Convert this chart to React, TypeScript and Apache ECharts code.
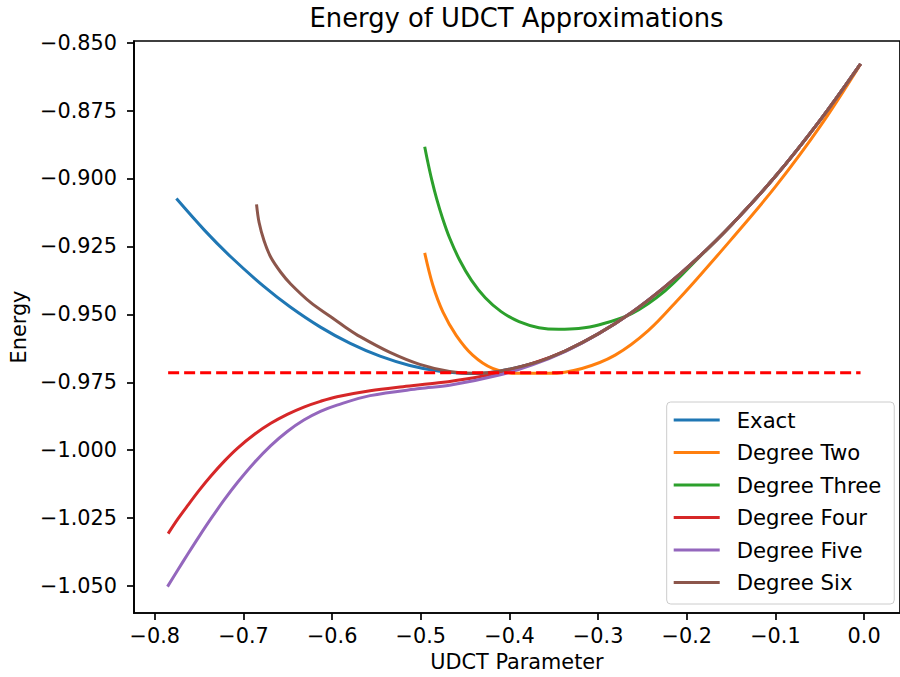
import React, { useEffect, useRef } from "react";
import * as echarts from "echarts";

// Tick values
const xTicks = [-0.8, -0.7, -0.6, -0.5, -0.4, -0.3, -0.2, -0.1, 0.0];
const yTicks = [-1.05, -1.025, -1.0, -0.975, -0.95, -0.925, -0.9, -0.875, -0.85];

const seriesNames = ["Exact", "Degree Two", "Degree Three", "Degree Four", "Degree Five", "Degree Six"];
const seriesColors = ["#1f77b4", "#ff7f0e", "#2ca02c", "#d62728", "#9467bd", "#8c564b"];

// Exact
const exactX = [-0.7757, -0.7441, -0.7141, -0.6767, -0.6476, -0.6132, -0.5796, -0.546, -0.5124, -0.4788, -0.4377, -0.4115, -0.3742, -0.3368, -0.2995, -0.2622, -0.2248, -0.1874, -0.15, -0.1, -0.05, -0.004];
const exactY = [-0.9074, -0.919, -0.9289, -0.9398, -0.9472, -0.9547, -0.9607, -0.9654, -0.9688, -0.9709, -0.9718, -0.9709, -0.9681, -0.9634, -0.9571, -0.9493, -0.9399, -0.9292, -0.9172, -0.8992, -0.8787, -0.8578];

// Degree Two
const twoX = [-0.4956, -0.4863, -0.4751, -0.4601, -0.4415, -0.419, -0.3928, -0.3555, -0.3182, -0.2808, -0.2435, -0.2062, -0.1874, -0.15, -0.1, -0.05, -0.004];
const twoY = [-0.9274, -0.9394, -0.9491, -0.9577, -0.965, -0.9699, -0.9717, -0.9717, -0.9699, -0.965, -0.956, -0.9433, -0.9365, -0.9225, -0.903, -0.881, -0.8579];

// Degree Three
const threeX = [-0.4956, -0.4922, -0.4877, -0.4821, -0.4754, -0.4676, -0.4564, -0.443, -0.4273, -0.4094, -0.3892, -0.3668, -0.3444, -0.322, -0.2995, -0.2622, -0.2248, -0.1874, -0.15, -0.1, -0.05, -0.004];
const threeY = [-0.8883, -0.8938, -0.9004, -0.9075, -0.9147, -0.9218, -0.9299, -0.9374, -0.9439, -0.949, -0.9527, -0.9549, -0.9555, -0.9552, -0.9539, -0.9497, -0.9414, -0.9294, -0.9172, -0.8992, -0.8787, -0.8578];

// Degree Four
const fourX = [-0.785, -0.7738, -0.7626, -0.7496, -0.7365, -0.7216, -0.7066, -0.6879, -0.6692, -0.6506, -0.6319, -0.6132, -0.5945, -0.5572, -0.52, -0.48, -0.44, -0.4115, -0.3742, -0.3368, -0.2995, -0.2622, -0.2248, -0.1874, -0.15, -0.1, -0.05, -0.004];
const fourY = [-1.0307, -1.0252, -1.0202, -1.0146, -1.0094, -1.004, -0.9992, -0.9942, -0.9901, -0.9868, -0.9841, -0.982, -0.9803, -0.9781, -0.9766, -0.9752, -0.9733, -0.9714, -0.9681, -0.9634, -0.9571, -0.9493, -0.9399, -0.9292, -0.9172, -0.8992, -0.8787, -0.8578];

// Degree Five
const fiveX = [-0.7857, -0.7741, -0.7626, -0.7496, -0.7365, -0.7216, -0.7066, -0.6879, -0.6692, -0.6506, -0.6319, -0.6132, -0.5945, -0.5572, -0.5012, -0.4676, -0.4115, -0.3742, -0.3368, -0.2995, -0.2622, -0.2248, -0.1874, -0.15, -0.1, -0.05, -0.004];
const fiveY = [-1.0502, -1.0441, -1.0381, -1.0315, -1.0251, -1.0182, -1.0118, -1.0046, -0.9983, -0.9931, -0.9889, -0.9857, -0.9834, -0.9799, -0.9773, -0.9761, -0.9723, -0.9686, -0.9636, -0.9571, -0.9493, -0.9399, -0.9292, -0.9172, -0.8992, -0.8787, -0.8578];

// Degree Six
const sixX = [-0.6853, -0.6824, -0.6768, -0.6692, -0.658, -0.6468, -0.6244, -0.602, -0.585, -0.5684, -0.5348, -0.5012, -0.4676, -0.4377, -0.4115, -0.3742, -0.3368, -0.2995, -0.2622, -0.2248, -0.1874, -0.15, -0.1, -0.05, -0.004];
const sixY = [-0.9095, -0.9162, -0.9229, -0.929, -0.9345, -0.9388, -0.9456, -0.9508, -0.9547, -0.9582, -0.964, -0.9684, -0.971, -0.9717, -0.9709, -0.9681, -0.9634, -0.9571, -0.9493, -0.9399, -0.9292, -0.9172, -0.8992, -0.8787, -0.8578];

// Reference (dashed) line
const refX = [-0.785, -0.004];
const refY = [-0.9715, -0.9715];

const allX = [exactX, twoX, threeX, fourX, fiveX, sixX];
const allY = [exactY, twoY, threeY, fourY, fiveY, sixY];

const FONT = "DejaVu Sans";
const fmt = (v: number, d: number) => (v < -1e-9 ? "\u2212" : "") + Math.abs(v).toFixed(d);

export default function App() {
  const ref = useRef<HTMLDivElement>(null);
  useEffect(() => {
    document.body.style.margin = "0";
    const chart = echarts.init(ref.current!, null, { renderer: "svg" });
    const lines = seriesNames.map((name, i) => ({
      name,
      type: "line",
      data: allX[i].map((x, j) => [x, allY[i][j]]),
      symbol: "none",
      smooth: 0.35,
      lineStyle: { color: seriesColors[i], width: 3 },
      itemStyle: { color: seriesColors[i] },
      z: 2 + i,
    }));
    chart.setOption({
      animation: false,
      textStyle: { fontFamily: FONT },
      title: {
        text: "Energy of UDCT Approximations",
        left: 511.5,
        top: 0,
        textAlign: "center",
        textStyle: { fontSize: 25.8, fontWeight: "normal", color: "#000", fontFamily: FONT },
      },
      grid: {
        left: 132.3,
        top: 41,
        width: 771.1,
        height: 574.7,
        show: true,
        borderColor: "#000",
        borderWidth: 1.7,
        backgroundColor: "transparent",
      },
      legend: {
        data: seriesNames,
        orient: "vertical",
        left: 666.7,
        top: 402,
        padding: [7, 13, 10.5, 7],
        itemWidth: 46,
        itemHeight: 3,
        icon: "rect",
        itemGap: 10.5,
        selectedMode: false,
        backgroundColor: "rgba(255,255,255,0.8)",
        borderColor: "#cccccc",
        borderWidth: 1,
        borderRadius: 4,
        textStyle: { fontSize: 21.2, lineHeight: 22, color: "#000", fontFamily: FONT, padding: [0, 0, 0, 12] },
      },
      xAxis: {
        type: "value",
        min: -0.8235,
        max: 0.0405,
        name: "UDCT Parameter",
        nameLocation: "middle",
        nameGap: 38,
        nameTextStyle: { fontSize: 20.8, color: "#000", fontFamily: FONT },
        axisLine: { show: true, onZero: false, lineStyle: { color: "#000", width: 1.7 } },
        axisTick: { show: true, length: 7, customValues: xTicks, lineStyle: { color: "#000", width: 1.7 } },
        axisLabel: {
          customValues: xTicks,
          formatter: (v: number) => fmt(v, 1),
          margin: 12,
          fontSize: 20.8,
          color: "#000",
          fontFamily: FONT,
        },
        splitLine: { show: false },
      },
      yAxis: {
        type: "value",
        min: -1.0599,
        max: -0.8494,
        name: "Energy",
        nameLocation: "middle",
        nameGap: 105,
        nameRotate: 90,
        nameTextStyle: { fontSize: 20.8, color: "#000", fontFamily: FONT },
        axisLine: { show: true, onZero: false, lineStyle: { color: "#000", width: 1.7 } },
        axisTick: { show: true, length: 7, customValues: yTicks, lineStyle: { color: "#000", width: 1.7 } },
        axisLabel: {
          customValues: yTicks,
          formatter: (v: number) => fmt(v, 3),
          margin: 17,
          fontSize: 20.8,
          color: "#000",
          fontFamily: FONT,
        },
        splitLine: { show: false },
      },
      series: [
        ...lines,
        {
          name: "Reference",
          type: "line",
          data: refX.map((x, j) => [x, refY[j]]),
          symbol: "none",
          lineStyle: { color: "#ff0000", width: 3, type: [11, 5] },
          itemStyle: { color: "#ff0000" },
          z: 10,
        },
      ],
    });
    return () => chart.dispose();
  }, []);
  return <div ref={ref} style={{ position: "absolute", left: 0, top: 0, width: 900, height: 677 }} />;
}
